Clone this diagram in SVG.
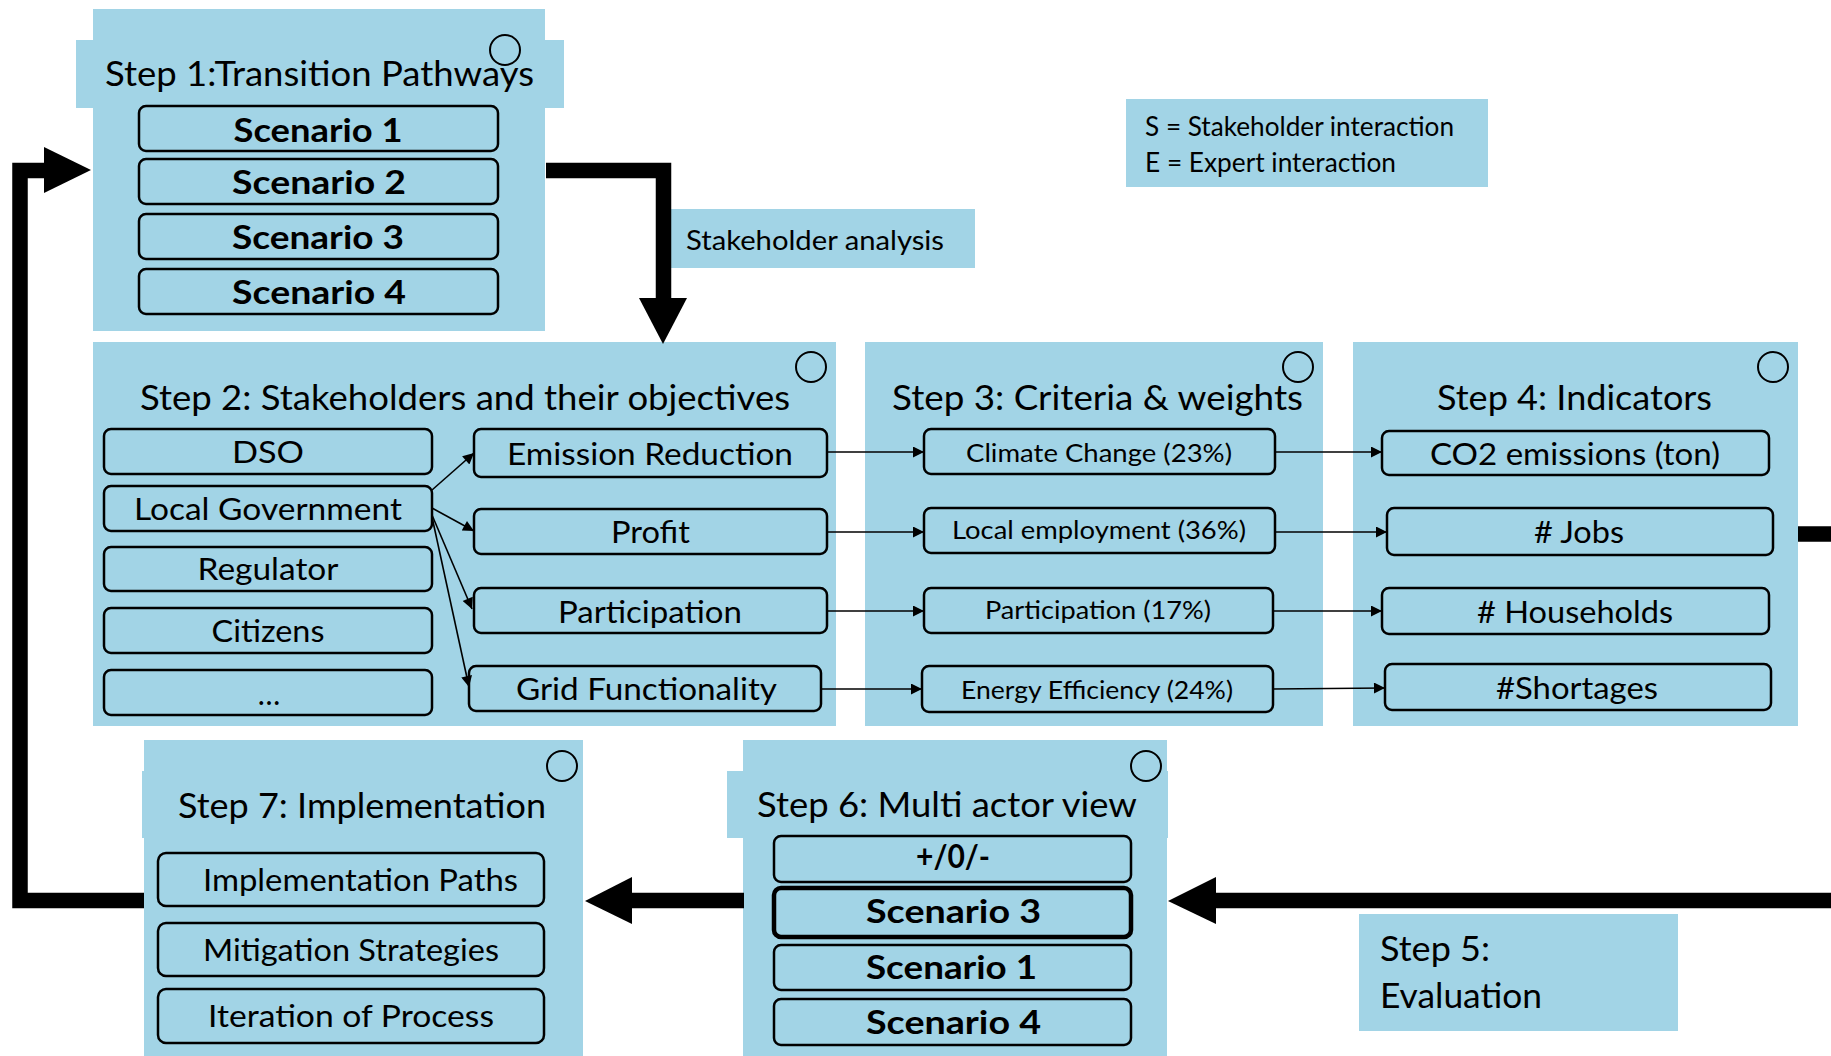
<svg xmlns="http://www.w3.org/2000/svg" width="1831" height="1056" viewBox="0 0 1831 1056">
  <style>
    .panel { fill: #A2D4E6; }
    .item { fill: #A2D4E6; stroke: #000; stroke-width: 2.5; }
    .item-strong { fill: #A2D4E6; stroke: #000; stroke-width: 4.5; }
    .mark { fill: none; stroke: #000; stroke-width: 2; }
    text { font-family: Lato, "Open Sans", "Liberation Sans", sans-serif; fill: #000; }
    .title { font-size: 34px; }
    .bold { font-size: 33px; font-weight: bold; }
    .t30 { font-size: 30px; }
    .t31 { font-size: 31px; }
    .t25 { font-size: 25px; }
    .t27 { font-size: 27px; }
    .mid { text-anchor: middle; }
    .thick { fill: none; stroke: #000; stroke-width: 15.5; stroke-linejoin: miter; }
    .thin { fill: none; stroke: #000; stroke-width: 1.6; marker-end: url(#tip); }
    .head { fill: #000; }
  </style>
  <defs>
    <marker id="tip" viewBox="0 0 10 10" refX="10" refY="5" markerUnits="userSpaceOnUse" markerWidth="15" markerHeight="11" orient="auto">
      <path d="M0,0 L10,5 L0,10 Z" fill="#000"/>
    </marker>
  </defs>

  <rect width="1831" height="1056" fill="#fff"/>

  <!-- Step 1 -->
  <g id="step1">
    <rect class="panel" x="93" y="9" width="452" height="322"/>
    <rect class="panel" x="76" y="40" width="488" height="68"/>
    <circle class="mark" cx="505" cy="50" r="15"/>
    <text class="title" x="105" y="86" textLength="429" lengthAdjust="spacingAndGlyphs">Step 1:Transition Pathways</text>
    <rect class="item" x="139" y="106" width="359" height="45" rx="7"/>
    <text class="bold mid" x="318" y="142" textLength="169" lengthAdjust="spacingAndGlyphs">Scenario 1</text>
    <rect class="item" x="139" y="159" width="359" height="45" rx="7"/>
    <text class="bold mid" x="319" y="194" textLength="174" lengthAdjust="spacingAndGlyphs">Scenario 2</text>
    <rect class="item" x="139" y="214" width="359" height="45" rx="7"/>
    <text class="bold mid" x="318" y="249" textLength="172" lengthAdjust="spacingAndGlyphs">Scenario 3</text>
    <rect class="item" x="139" y="269" width="359" height="45" rx="7"/>
    <text class="bold mid" x="319" y="304" textLength="174" lengthAdjust="spacingAndGlyphs">Scenario 4</text>
  </g>

  <!-- Label on the Step 1 to Step 2 link -->
  <g id="stakeholder-analysis">
    <rect class="panel" x="671" y="209" width="304" height="59"/>
    <text class="t27" x="686" y="250" textLength="258" lengthAdjust="spacingAndGlyphs">Stakeholder analysis</text>
  </g>

  <!-- Legend -->
  <g id="legend">
    <rect class="panel" x="1126" y="99" width="362" height="88"/>
    <text class="t27" x="1145" y="136" textLength="309" lengthAdjust="spacingAndGlyphs">S = Stakeholder interaction</text>
    <text class="t27" x="1145" y="172" textLength="251" lengthAdjust="spacingAndGlyphs">E = Expert interaction</text>
  </g>

  <!-- Step 2 -->
  <g id="step2">
    <rect class="panel" x="93" y="342" width="743" height="384"/>
    <circle class="mark" cx="811" cy="367" r="15"/>
    <text class="title" x="140" y="410" textLength="650" lengthAdjust="spacingAndGlyphs">Step 2: Stakeholders and their objectives</text>
    <rect class="item" x="104" y="429" width="328" height="45" rx="7"/>
    <text class="t30 mid" x="268" y="463" textLength="72" lengthAdjust="spacingAndGlyphs">DSO</text>
    <rect class="item" x="104" y="486" width="328" height="45" rx="7"/>
    <text class="t30 mid" x="268" y="520" textLength="268" lengthAdjust="spacingAndGlyphs">Local Government</text>
    <rect class="item" x="104" y="547" width="328" height="44" rx="7"/>
    <text class="t30 mid" x="268" y="580" textLength="141" lengthAdjust="spacingAndGlyphs">Regulator</text>
    <rect class="item" x="104" y="608" width="328" height="45" rx="7"/>
    <text class="t30 mid" x="268" y="642" textLength="113" lengthAdjust="spacingAndGlyphs">Citizens</text>
    <rect class="item" x="104" y="670" width="328" height="45" rx="7"/>
    <text class="t30 mid" x="269" y="705">…</text>
    <rect class="item" x="474" y="429" width="353" height="48" rx="7"/>
    <text class="t30" x="507" y="465" textLength="286" lengthAdjust="spacingAndGlyphs">Emission Reduction</text>
    <rect class="item" x="474" y="509" width="353" height="45" rx="7"/>
    <text class="t30" x="611" y="543" textLength="79" lengthAdjust="spacingAndGlyphs">Profit</text>
    <rect class="item" x="474" y="588" width="353" height="45" rx="7"/>
    <text class="t30" x="558" y="623" textLength="184" lengthAdjust="spacingAndGlyphs">Participation</text>
    <rect class="item" x="469" y="666" width="352" height="45" rx="7"/>
    <text class="t30" x="516" y="700" textLength="261" lengthAdjust="spacingAndGlyphs">Grid Functionality</text>
  </g>

  <!-- Step 3 -->
  <g id="step3">
    <rect class="panel" x="865" y="342" width="458" height="384"/>
    <circle class="mark" cx="1298" cy="367" r="15"/>
    <text class="title" x="892" y="410" textLength="411" lengthAdjust="spacingAndGlyphs">Step 3: Criteria &amp; weights</text>
    <rect class="item" x="924" y="429" width="351" height="45" rx="7"/>
    <text class="t25" x="966" y="462" textLength="266" lengthAdjust="spacingAndGlyphs">Climate Change (23%)</text>
    <rect class="item" x="924" y="508" width="351" height="45" rx="7"/>
    <text class="t25" x="952" y="539" textLength="294" lengthAdjust="spacingAndGlyphs">Local employment (36%)</text>
    <rect class="item" x="924" y="588" width="349" height="45" rx="7"/>
    <text class="t25" x="985" y="619" textLength="226" lengthAdjust="spacingAndGlyphs">Participation (17%)</text>
    <rect class="item" x="922" y="666" width="351" height="46" rx="7"/>
    <text class="t25" x="961" y="699" textLength="272" lengthAdjust="spacingAndGlyphs">Energy Efficiency (24%)</text>
  </g>

  <!-- Step 4 -->
  <g id="step4">
    <rect class="panel" x="1353" y="342" width="445" height="384"/>
    <circle class="mark" cx="1773" cy="367" r="15"/>
    <text class="title" x="1437" y="410" textLength="275" lengthAdjust="spacingAndGlyphs">Step 4: Indicators</text>
    <rect class="item" x="1382" y="431" width="387" height="44" rx="7"/>
    <text class="t31" x="1430" y="465" textLength="290" lengthAdjust="spacingAndGlyphs">CO2 emissions (ton)</text>
    <rect class="item" x="1387" y="508" width="386" height="47" rx="7"/>
    <text class="t31" x="1534" y="543" textLength="90" lengthAdjust="spacingAndGlyphs"># Jobs</text>
    <rect class="item" x="1382" y="588" width="387" height="46" rx="7"/>
    <text class="t31" x="1477" y="623" textLength="196" lengthAdjust="spacingAndGlyphs"># Households</text>
    <rect class="item" x="1385" y="664" width="386" height="46" rx="7"/>
    <text class="t31" x="1496" y="699" textLength="162" lengthAdjust="spacingAndGlyphs">#Shortages</text>
  </g>

  <!-- Step 5 -->
  <g id="step5">
    <rect class="panel" x="1359" y="914" width="319" height="117"/>
    <text class="title" x="1380" y="961" textLength="110" lengthAdjust="spacingAndGlyphs">Step 5:</text>
    <text class="title" x="1380" y="1008" textLength="162" lengthAdjust="spacingAndGlyphs">Evaluation</text>
  </g>

  <!-- Step 6 -->
  <g id="step6">
    <rect class="panel" x="743" y="740" width="424" height="330"/>
    <rect class="panel" x="727" y="771" width="441" height="67"/>
    <circle class="mark" cx="1146" cy="766" r="15"/>
    <text class="title" x="757" y="817" textLength="380" lengthAdjust="spacingAndGlyphs">Step 6: Multi actor view</text>
    <rect class="item" x="774" y="836" width="357" height="46" rx="7"/>
    <text class="bold mid" x="953" y="868" textLength="74" lengthAdjust="spacingAndGlyphs">+/0/-</text>
    <rect class="item-strong" x="774" y="888" width="357" height="49" rx="7"/>
    <text class="bold" x="866" y="923" textLength="175" lengthAdjust="spacingAndGlyphs">Scenario 3</text>
    <rect class="item" x="774" y="945" width="357" height="45" rx="7"/>
    <text class="bold" x="866" y="979" textLength="171" lengthAdjust="spacingAndGlyphs">Scenario 1</text>
    <rect class="item" x="774" y="999" width="357" height="46" rx="7"/>
    <text class="bold" x="866" y="1034" textLength="175" lengthAdjust="spacingAndGlyphs">Scenario 4</text>
  </g>

  <!-- Step 7 -->
  <g id="step7">
    <rect class="panel" x="144" y="740" width="439" height="330"/>
    <rect class="panel" x="142" y="771" width="20" height="67"/>
    <circle class="mark" cx="562" cy="766" r="15"/>
    <text class="title" x="178" y="818" textLength="368" lengthAdjust="spacingAndGlyphs">Step 7: Implementation</text>
    <rect class="item" x="158" y="853" width="386" height="53" rx="8"/>
    <text class="t31" x="203" y="891" textLength="315" lengthAdjust="spacingAndGlyphs">Implementation Paths</text>
    <rect class="item" x="158" y="923" width="386" height="53" rx="8"/>
    <text class="t31" x="203" y="961" textLength="296" lengthAdjust="spacingAndGlyphs">Mitigation Strategies</text>
    <rect class="item" x="158" y="989" width="386" height="54" rx="8"/>
    <text class="t31" x="208" y="1027" textLength="286" lengthAdjust="spacingAndGlyphs">Iteration of Process</text>
  </g>

  <!-- Connectors -->
  <g id="connectors">
    <!-- main process flow -->
    <path class="thick" d="M546,170.5 H663.5 V300"/>
    <polygon class="head" points="639,298 687,298 663,344"/>
    <path class="thick" d="M1798,534 H1831"/>
    <path class="thick" d="M1831,900.5 H1214"/>
    <polygon class="head" points="1216,877 1216,924 1168,901"/>
    <path class="thick" d="M744,900.5 H630"/>
    <polygon class="head" points="632,877 632,924 585,901"/>
    <path class="thick" d="M144,900.5 H20 V170.5 H46"/>
    <polygon class="head" points="44,147 44,193 91,170"/>

    <!-- stakeholder to objectives -->
    <line class="thin" x1="432" y1="490" x2="474" y2="453"/>
    <line class="thin" x1="432" y1="508" x2="474" y2="531"/>
    <line class="thin" x1="432" y1="515" x2="472" y2="609"/>
    <line class="thin" x1="432" y1="517" x2="469" y2="687"/>

    <!-- objectives to criteria -->
    <line class="thin" x1="827" y1="452" x2="924" y2="452"/>
    <line class="thin" x1="827" y1="532" x2="924" y2="532"/>
    <line class="thin" x1="827" y1="611" x2="924" y2="611"/>
    <line class="thin" x1="821" y1="689" x2="922" y2="689"/>

    <!-- criteria to indicators -->
    <line class="thin" x1="1275" y1="452" x2="1382" y2="452"/>
    <line class="thin" x1="1275" y1="532" x2="1387" y2="532"/>
    <line class="thin" x1="1273" y1="611" x2="1382" y2="611"/>
    <line class="thin" x1="1273" y1="689" x2="1385" y2="688"/>
  </g>
</svg>
